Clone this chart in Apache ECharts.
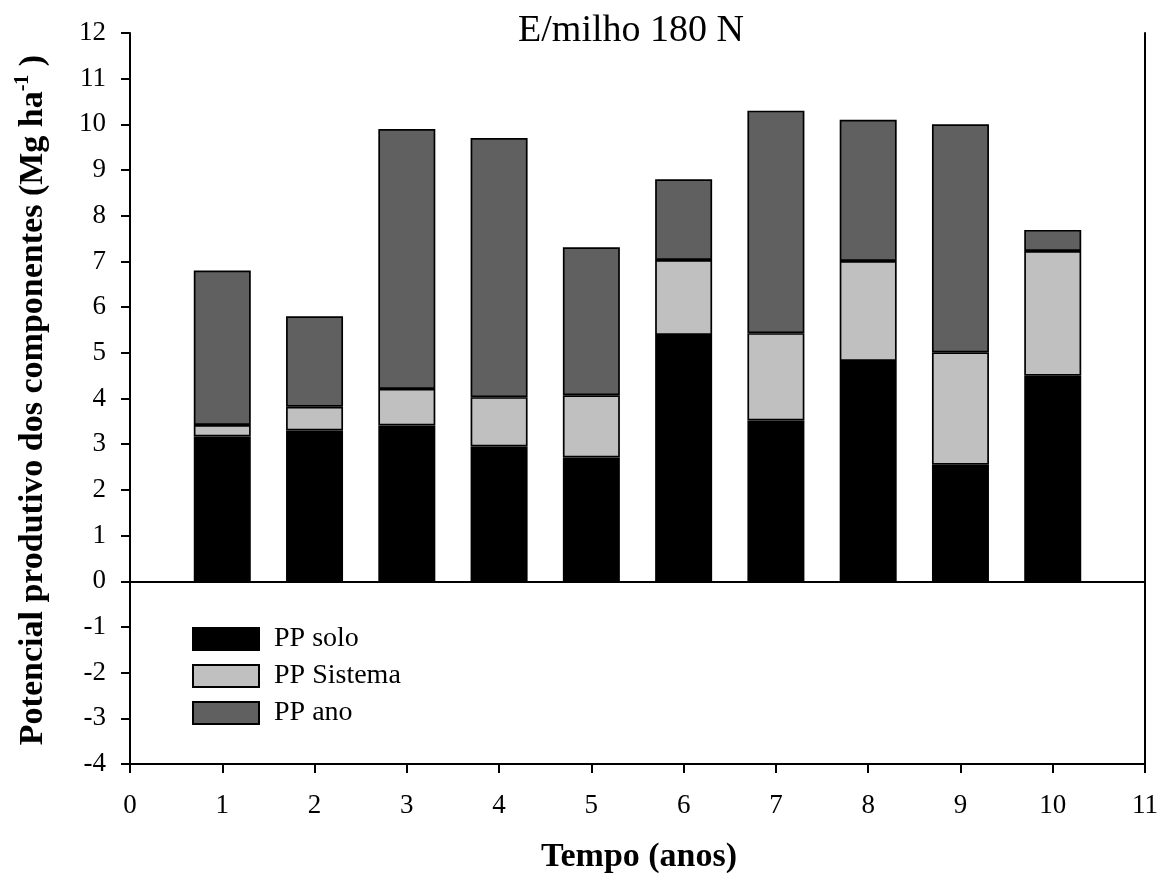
<!DOCTYPE html>
<html>
<head>
<meta charset="utf-8">
<script src="https://cdn.jsdelivr.net/npm/echarts@6/dist/echarts.min.js"></script>
<style>html,body{margin:0;padding:0;background:#fff}#c{width:1161px;height:884px}</style>
</head>
<body>
<div id="c"></div>
<script>
const xTicks = ['0', '1', '2', '3', '4', '5', '6', '7', '8', '9', '10', '11'];
const years = [1, 2, 3, 4, 5, 6, 7, 8, 9, 10];
const ppSolo = [3.17, 3.30, 3.41, 2.95, 2.71, 5.39, 3.52, 4.82, 2.55, 4.50];
const ppSistema = [0.25, 0.52, 0.80, 1.08, 1.36, 1.64, 1.91, 2.19, 2.46, 2.73];
const ppAno = [3.38, 1.98, 5.69, 5.67, 3.24, 1.77, 4.87, 3.09, 4.99, 0.46];
const seriesNames = ['PP solo', 'PP Sistema', 'PP ano'];
const titleText = 'E/milho 180 N';
const xName = 'Tempo (anos)';

const FONT = '"Liberation Serif", "Times New Roman", serif';
const chart = echarts.init(document.getElementById('c'), null, {renderer: 'canvas'});

// place each value on its year category; other categories stay empty
function mk(vals) {
  return xTicks.map(t => {
    const i = years.indexOf(Number(t));
    return i >= 0 ? vals[i] : '-';
  });
}
const colors = ['#000000', '#c0c0c0', '#606060'];
const allVals = [ppSolo, ppSistema, ppAno];

const series = allVals.map((v, i) => ({
  name: seriesNames[i],
  type: 'bar',
  stack: 'total',
  barWidth: 57,
  data: mk(v),
  itemStyle: {color: colors[i], borderColor: '#000', borderWidth: 1.7},
  emphasis: {disabled: true},
  markLine: i === 0 ? {
    silent: true, symbol: 'none', animation: false,
    label: {show: false},
    lineStyle: {color: '#000', width: 2, type: 'solid'},
    data: [{yAxis: 0}]
  } : undefined
}));

chart.setOption({
  animation: false,
  backgroundColor: '#fff',
  legend: {
    orient: 'vertical', left: 187, top: 620,
    itemWidth: 66, itemHeight: 22, itemGap: 9,
    icon: 'rect',
    data: seriesNames,
    textStyle: {fontFamily: FONT, fontSize: 28, color: '#000', padding: [0, 0, 0, 10]}
  },
  grid: {left: 130, right: 13, top: 33, bottom: 120, containLabel: false},
  xAxis: {
    type: 'category', data: xTicks, boundaryGap: false,
    axisLine: {show: true, onZero: false, lineStyle: {color: '#000', width: 2}},
    axisTick: {show: true, length: 9, interval: 0, lineStyle: {color: '#000', width: 2}},
    axisLabel: {margin: 28, interval: 0, fontFamily: FONT, fontSize: 27, color: '#000'},
    splitLine: {show: false}
  },
  yAxis: [{
    type: 'value', min: -4, max: 12, interval: 1,
    axisLine: {show: true, lineStyle: {color: '#000', width: 2}},
    axisTick: {show: true, length: 9, lineStyle: {color: '#000', width: 2}},
    axisLabel: {margin: 24, fontFamily: FONT, fontSize: 27, color: '#000'},
    splitLine: {show: false}
  }, {
    type: 'value', min: -4, max: 12, interval: 1, position: 'right',
    axisLine: {show: true, lineStyle: {color: '#000', width: 2}},
    axisTick: {show: false}, axisLabel: {show: false}, splitLine: {show: false}
  }],
  graphic: [{
    type: 'text', x: 631, y: 31,
    style: {
      text: titleText, align: 'center', verticalAlign: 'middle',
      fontFamily: FONT, fontSize: 38, fontWeight: 'normal', fill: '#000'
    }
  }, {
    type: 'text', x: 33, y: 400, rotation: Math.PI / 2,
    style: {
      text: '{b|Potencial produtivo dos componentes (Mg ha}{s|-1}{b| )}',
      align: 'center', verticalAlign: 'middle',
      rich: {
        b: {fontFamily: FONT, fontSize: 34, fontWeight: 'bold', fill: '#000', lineHeight: 40},
        s: {fontFamily: FONT, fontSize: 20, fontWeight: 'bold', fill: '#000', verticalAlign: 'top', lineHeight: 20}
      }
    }
  }, {
    type: 'text', x: 639, y: 857,
    style: {
      text: xName, align: 'center', verticalAlign: 'middle',
      fontFamily: FONT, fontSize: 34, fontWeight: 'bold', fill: '#000'
    }
  }],
  series: series
});
</script>
</body>
</html>
